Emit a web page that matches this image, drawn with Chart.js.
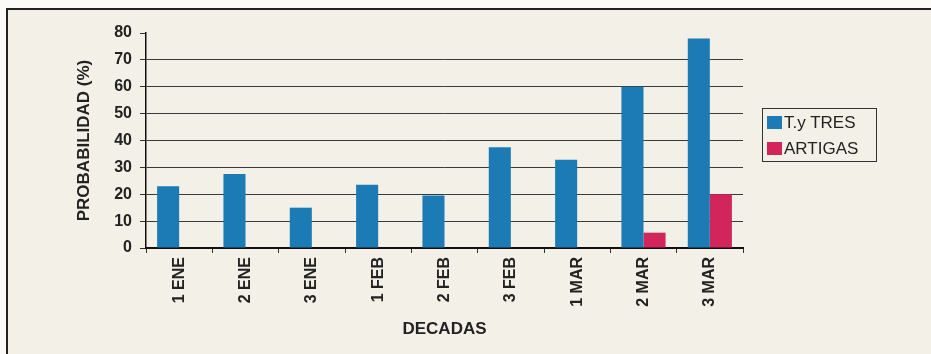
<!DOCTYPE html>
<html>
<head>
<meta charset="utf-8">
<script src="https://cdn.jsdelivr.net/npm/chart.js@4"></script>
<style>
  body { margin: 0; background: #fbfaf6; }
  #frame {
    position: absolute; left: 6px; top: 8px; width: 940px; height: 360px;
    border-left: 2px solid #222; border-top: 2px solid #222;
    background: #f3f0e8;
  }
  #chartBox { position: absolute; left: 0; top: 0; width: 931px; height: 354px; }
  .chart-legend {
    position: absolute; left: 762px; top: 108px; width: 113px; height: 52px;
    border: 1px solid #333; margin: 0; padding: 0; list-style: none;
    font-family: "Liberation Sans", Arial, sans-serif; font-size: 17px; color: #222;
  }
  .chart-legend li { position: absolute; left: 4px; height: 20px; line-height: 20px; white-space: nowrap; }
  .chart-legend .bullet { display: inline-block; width: 15px; height: 13px; vertical-align: -1px; margin-right: 2px; }
</style>
</head>
<body>
<div id="frame"></div>
<div id="chartBox"><canvas id="bars" width="931" height="354"></canvas></div>
<ul id="bars_legend" class="chart-legend"></ul>
<script>
const decadas = ["1 ENE", "2 ENE", "3 ENE", "1 FEB", "2 FEB", "3 FEB", "1 MAR", "2 MAR", "3 MAR"];
const tyTres = [23, 27.5, 15, 23.5, 19.5, 37.5, 32.8, 60, 78];
const artigas = [0, 0, 0, 0, 0, 0, 0, 5.7, 20];
const yTicks = [0, 10, 20, 30, 40, 50, 60, 70, 80];

const seriesNames = ["T.y TRES", "ARTIGAS"];
const colorList = ["#1c7bb5", "#d1255c"];

function buildLegend(chart) {
  const ul = document.getElementById("bars_legend");
  chart.data.datasets.forEach(function (ds, i) {
    const li = document.createElement("li");
    li.style.top = (4 + i * 26) + "px";
    li.innerHTML = `<span class="bullet" style="background:${ds.backgroundColor}"></span>${ds.label}`;
    ul.appendChild(li);
  });
}

const ctx = document.getElementById("bars");
const boldFont = (size) => ({ family: "'Liberation Sans', Arial, sans-serif", size: size, weight: "bold" });

const chart = new Chart(ctx, {
  type: "bar",
  data: {
    labels: decadas,
    datasets: [
      { label: seriesNames[0], data: tyTres, backgroundColor: colorList[0] },
      { label: seriesNames[1], data: artigas, backgroundColor: colorList[1] }
    ]
  },
  options: {
    responsive: false,
    devicePixelRatio: 1,
    animation: false,
    datasets: { bar: { barPercentage: 1, categoryPercentage: 0.665, borderWidth: 0 } },
    layout: { padding: { left: 70, top: 33, right: 188, bottom: 10 } },
    plugins: { legend: { display: false }, tooltip: { enabled: false } },
    scales: {
      x: {
        afterFit: function (s) { s.height = 96; },
        grid: { drawOnChartArea: false, offset: true, tickLength: 5, tickColor: "#333", lineWidth: 1 },
        border: { color: "#111", width: 2 },
        ticks: { minRotation: 90, maxRotation: 90, padding: 4, color: "#222", font: boldFont(16) },
        title: { display: true, text: "DECADAS", color: "#222", font: boldFont(17), padding: 4 }
      },
      y: {
        min: 0,
        max: 80,
        afterFit: function (s) { s.width = 76; },
        afterBuildTicks: function (s) { s.ticks = yTicks.map(v => ({ value: v })); },
        grid: {
          color: (c) => (c.tick && c.tick.value === 80) ? "rgba(0,0,0,0)" : "#3a3a3a",
          tickColor: "#333",
          tickLength: 6,
          lineWidth: 1
        },
        border: { color: "#111", width: 1.5 },
        ticks: { padding: 8, color: "#222", font: boldFont(16) },
        title: { display: true, text: "PROBABILIDAD (%)", color: "#222", font: boldFont(17), padding: 4 }
      }
    }
  }
});

buildLegend(chart);
</script>
</body>
</html>
